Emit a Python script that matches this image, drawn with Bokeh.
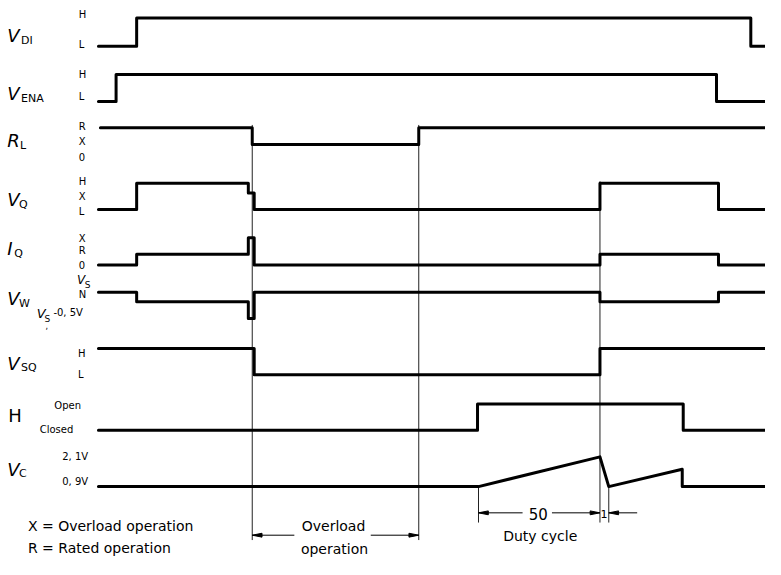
from bokeh.plotting import figure
from bokeh.models import Range1d
from bokeh.embed import file_html
from bokeh.resources import INLINE
from bokeh.core.properties import value

FONT = "DejaVu Sans"

# ---------------- data: transition times (time axis units) and states ----------------
VDI_t = [100, 139, 766, 781];                 VDI_s = ["L", "H", "L"]
VENA_t = [100, 118, 731, 781];                VENA_s = ["L", "H", "L"]
RL_t = [102, 257, 427, 781];                  RL_s = ["R", "X", "R"]
VQ_t = [100, 139, 253, 259, 612, 733, 781];   VQ_s = ["L", "H", "X", "L", "H", "L"]
IQ_t = [100, 139, 253, 259, 612, 733, 781];   IQ_s = ["0", "R", "X", "0", "R", "0"]
VW_t = [100, 139, 253, 259, 612, 733, 781];   VW_s = ["N", "L", "D", "N", "L", "N"]
VSQ_t = [100, 259, 612, 781];                 VSQ_s = ["H", "L", "H"]
H_t = [100, 487, 697, 781];                   H_s = ["C", "O", "C"]
VC_t = [100, 488, 612, 621, 696, 696, 781]
VC_v = [0.9, 0.9, 2.1, 0.9, 1.6, 0.9, 0.9]

# marker times for dimension lines
overload_start, overload_end = 257, 427
duty_start, duty_end, off_end = 488, 612, 621

# ---------------- layout: vertical position of each level ----------------
LEV = {
    "VDI": {"H": 18, "L": 47},
    "VENA": {"H": 76, "L": 104},
    "RL": {"R": 131, "X": 148},
    "VQ": {"H": 188, "X": 198, "L": 215},
    "IQ": {"X": 244, "R": 261, "0": 272},
    "VW": {"N": 300, "L": 310, "D": 327},
    "VSQ": {"H": 358, "L": 385},
    "H": {"O": 415, "C": 442},
}
VC_base, VC_scale = 500, 25.5


def vc_y(v):
    return VC_base - (v - 0.9) * VC_scale


p = figure(width=765, height=559, x_range=Range1d(0, 781), y_range=Range1d(575, 0),
           output_backend="svg", toolbar_location=None, min_border=0,
           x_axis_type=None, y_axis_type=None, background_fill_color="white")
p.grid.visible = False
p.outline_line_color = None


def step(times, states, levels):
    xs, ys = [], []
    for i, s in enumerate(states):
        xs += [times[i], times[i + 1]]
        ys += [levels[s], levels[s]]
    p.line(xs, ys, line_width=3, color="black", line_join="round", line_cap="round")


def txt(x, y, s, size, align="left", style="normal"):
    p.text(x=[x], y=[y], text=[s], text_font=value(FONT), text_font_size=f"{size}px",
           text_align=align, text_baseline="middle", text_font_style=style, text_color="black")


# thin reference lines (drawn first)
thin = dict(line_width=1, color="#222222")
p.segment(x0=[overload_start, overload_end, duty_end, duty_start, off_end],
          y0=[128, 128, 186, vc_y(0.9), vc_y(0.9)],
          x1=[overload_start, overload_end, duty_end, duty_start, off_end],
          y1=[555, 555, 537, 537, 537], **thin)

# signals
step(VDI_t, VDI_s, LEV["VDI"])
step(VENA_t, VENA_s, LEV["VENA"])
step(RL_t, RL_s, LEV["RL"])
step(VQ_t, VQ_s, LEV["VQ"])
step(IQ_t, IQ_s, LEV["IQ"])
step(VW_t, VW_s, LEV["VW"])
step(VSQ_t, VSQ_s, LEV["VSQ"])
step(H_t, H_s, LEV["H"])
p.line(VC_t, [vc_y(v) for v in VC_v], line_width=3, color="black", line_join="round", line_cap="round")

# signal names
names = [("V", "DI", 36, 21), ("V", "ENA", 96, 21), ("R", "L", 144, 20), ("V", "Q", 205, 19),
         ("I", "Q", 255, 14), ("V", "W", 307, 19), ("V", "SQ", 373, 21), ("V", "C", 482, 19)]
for main, sub, y, sx in names:
    txt(7, y, main, 18, style="italic")
    txt(sx, y + 5, sub, 11)
txt(8, 427, "H", 18)

# level labels
for s, x, y in [("H", 80, 14), ("L", 80, 45), ("H", 80, 76), ("L", 80, 99),
                ("R", 80, 130), ("X", 80, 145), ("0", 80, 161),
                ("H", 80, 186), ("X", 80, 202), ("L", 80, 217),
                ("X", 80, 245), ("R", 80, 257), ("0", 80, 272),
                ("N", 80, 302), ("H", 79, 363), ("L", 79, 385)]:
    txt(x, y, s, 10)
txt(78, 288, "V", 12, style="italic")
txt(86, 293, "S", 9)
txt(37, 322, "V", 13, style="italic")
txt(45, 328, "S", 9)
txt(46, 334, ",", 8)
txt(54, 321, "-0, 5V", 10)
txt(55, 417, "Open", 10)
txt(40, 441, "Closed", 10)
txt(63, 469, "2, 1V", 10)
txt(63, 495, "0, 9V", 10)

# dimension lines
p.segment(x0=[overload_start, 378, duty_start, 563, off_end],
          y0=[550, 550, 527, 527, 527],
          x1=[300, overload_end, 533, duty_end, 650],
          y1=[550, 550, 527, 527, 527], line_width=1, color="black")


def head(xt, y, d):
    return [xt, xt + d * 10, xt + d * 10], [y, y - 2, y + 2]


heads = [head(overload_start, 550, 1), head(overload_end, 550, -1),
         head(duty_start, 527, 1), head(duty_end, 527, -1), head(off_end, 527, 1)]
p.patches([h[0] for h in heads], [h[1] for h in heads], color="black")

txt(340, 541, "Overload", 14, align="center")
txt(341, 564, "operation", 14, align="center")
txt(549, 528, "50", 15, align="center")
txt(616, 528, "1", 11, align="center")
txt(551, 551, "Duty cycle", 14, align="center")
txt(28, 541, "X = Overload operation", 14)
txt(28, 563, "R = Rated operation", 14)

open("out.html", "w").write(file_html(p, INLINE))
